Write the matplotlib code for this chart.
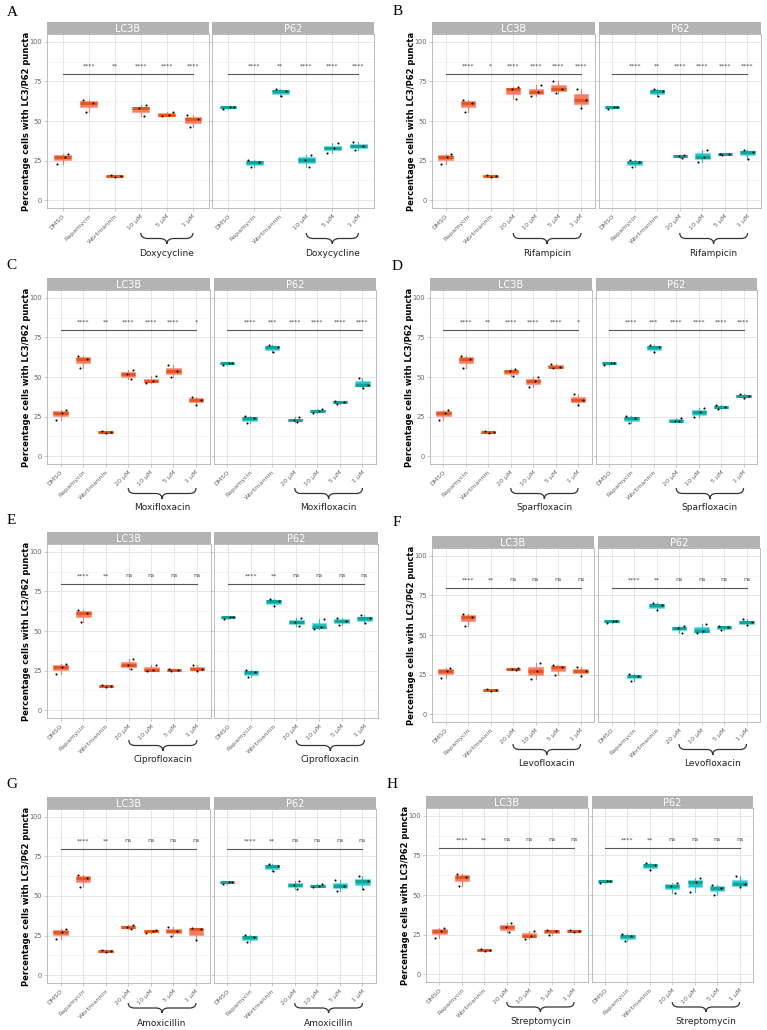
import matplotlib
matplotlib.use('Agg')
import matplotlib.pyplot as plt
import matplotlib.transforms as mtransforms
from matplotlib.path import Path
from matplotlib.patches import PathPatch

W, H = 767, 1030
fig = plt.figure(figsize=(W / 100, H / 100), dpi=100)

# ---------------- data ----------------
controls = ['DMSO', 'Rapamycin', 'Wortmannin']
lc3b_ctrl = [[23, 27.5, 29], [56, 61.5, 63.5], [14.5, 15, 16]]
p62_ctrl = [[57.5, 58.8, 59], [21, 24, 25.5], [65.5, 69, 70.5]]
conc4 = ['20 μM', '10 μM', '5 μM', '1 μM']
conc3 = ['10 μM', '5 μM', '1 μM']

a_drug = 'Doxycycline'
a_lc3b = [[53, 58, 60], [53, 53.5, 56], [46, 51, 54]]
a_p62 = [[21, 25.5, 28.5], [30, 33, 36], [31.5, 34, 37]]
a_sig_lc3b = ['****', '**', '****', '****', '****']
a_sig_p62 = ['****', '**', '****', '****', '****']

b_drug = 'Rifampicin'
b_lc3b = [[64, 70, 71.5], [65.5, 68.5, 72.5], [67.5, 70.5, 75], [58, 63.5, 70.5]]
b_p62 = [[26.5, 27.8, 28.5], [24, 27.5, 31.5], [28.5, 29, 29.3], [26, 30.5, 31.5]]
b_sig_lc3b = ['****', '*', '****', '****', '****', '****']
b_sig_p62 = ['****', '**', '****', '****', '****', '****']

c_drug = 'Moxifloxacin'
c_lc3b = [[48.5, 52, 54.5], [46.5, 47.5, 50.5], [50, 54, 57.5], [32.5, 35.5, 37.5]]
c_p62 = [[21.3, 23, 24.5], [27, 28.5, 29.8], [33, 34.3, 35], [43, 45, 49.5]]
c_sig_lc3b = ['****', '**', '****', '****', '****', '*']
c_sig_p62 = ['****', '***', '****', '****', '****', '****']

d_drug = 'Sparfloxacin'
d_lc3b = [[50.5, 53.5, 55], [43.5, 47.5, 50], [56, 56.5, 58.5], [32.5, 35.5, 39.5]]
d_p62 = [[22, 22.5, 24], [24.5, 28, 30.5], [30, 31, 32], [37, 38, 39.5]]
d_sig_lc3b = ['****', '**', '****', '****', '****', '*']
d_sig_p62 = ['****', '***', '****', '****', '****', '****']

e_drug = 'Ciprofloxacin'
e_lc3b = [[26, 28.5, 32], [24.5, 25.5, 28.5], [24.7, 25.3, 26], [25, 26, 28.5]]
e_p62 = [[53, 55.8, 58], [51, 52.5, 57.3], [54, 56.5, 58.3], [55, 58, 60]]
e_sig_lc3b = ['****', '**', 'ns', 'ns', 'ns', 'ns']
e_sig_p62 = ['****', '**', 'ns', 'ns', 'ns', 'ns']

f_drug = 'Levofloxacin'
f_lc3b = [[28, 28.5, 29], [22.3, 27.5, 32.3], [24.5, 29.5, 31], [24, 27.5, 29.6]]
f_p62 = [[51.5, 54.5, 56], [51, 52.5, 57], [53, 55, 56], [56.5, 58, 60]]
f_sig_lc3b = ['****', '**', 'ns', 'ns', 'ns', 'ns']
f_sig_p62 = ['****', '**', 'ns', 'ns', 'ns', 'ns']

g_drug = 'Amoxicillin'
g_lc3b = [[29.2, 30.5, 31.5], [26.5, 28, 28.5], [24.7, 28, 30.2], [22, 29, 29.5]]
g_p62 = [[54.5, 57, 59.5], [55.5, 56.5, 57.5], [53, 56.5, 60.3], [54.5, 59.5, 62.4]]
g_sig_lc3b = ['****', '**', 'ns', 'ns', 'ns', 'ns']
g_sig_p62 = ['****', '**', 'ns', 'ns', 'ns', 'ns']

h_drug = 'Streptomycin'
h_lc3b = [[26.4, 29.5, 32.3], [22.4, 24, 27.5], [24.5, 27, 28], [26.6, 27.5, 28.1]]
h_p62 = [[51, 56, 57.7], [52, 58, 60.5], [50, 54.5, 56.5], [55, 57, 62]]
h_sig_lc3b = ['****', '**', 'ns', 'ns', 'ns', 'ns']
h_sig_p62 = ['****', '**', 'ns', 'ns', 'ns', 'ns']

y_ticks = [0, 25, 50, 75, 100]
y_label = 'Percentage cells with LC3/P62 puncta'

# ---------------- layout (pixels) ----------------
panels = [
    ('A', a_drug, conc3, a_lc3b, a_p62, a_sig_lc3b, a_sig_p62, 47, 374, 22, (12, 12.5), (25, 36, 45)),
    ('B', b_drug, conc4, b_lc3b, b_p62, b_sig_lc3b, b_sig_p62, 432, 761, 22, (398, 11.5), (25, 36, 45)),
    ('C', c_drug, conc4, c_lc3b, c_p62, c_sig_lc3b, c_sig_p62, 47, 376, 278, (11.5, 266), (24, 35, 44)),
    ('D', d_drug, conc4, d_lc3b, d_p62, d_sig_lc3b, d_sig_p62, 430, 757, 278, (397, 267), (24, 35, 44)),
    ('E', e_drug, conc4, e_lc3b, e_p62, e_sig_lc3b, e_sig_p62, 47, 378, 532, (11, 520), (22, 33, 42)),
    ('F', f_drug, conc4, f_lc3b, f_p62, f_sig_lc3b, f_sig_p62, 432, 760, 536, (397, 523), (22, 33, 42)),
    ('G', g_drug, conc4, g_lc3b, g_p62, g_sig_lc3b, g_sig_p62, 47, 376, 797, (12, 785), (20, 30, 40)),
    ('H', h_drug, conc4, h_lc3b, h_p62, h_sig_lc3b, h_sig_p62, 426, 753, 796, (392, 785), (20, 30, 40)),
]

STRIP_H = 12
PLOT_H = 174
GAP = 4

styles = {
    'LC3B': dict(fill='#F67A64', edge='#FBA597', med='#E4581E'),
    'P62': dict(fill='#1FC3C8', edge='#86DFE2', med='#10A597'),
}
jit = [-0.2, 0.08, 0.22, -0.12, 0.18, -0.22, 0.02, 0.24, -0.16, 0.12, -0.05, 0.2]


def fx(px):
    return px / W


def fy(py):
    return 1 - py / H


def draw_brace(ax, x1, x2, ytop, ybot, color='#333333'):
    tr = mtransforms.blended_transform_factory(ax.transData, fig.transFigure)
    yt, yb = fy(ytop), fy(ybot)
    ym = (yt + yb) / 2
    xc = (x1 + x2) / 2
    r = 0.28
    verts = [(x1, yt), (x1, ym), (x1 + r, ym),
             (xc - r, ym),
             (xc, ym), (xc, yb),
             (xc, ym), (xc + r, ym),
             (x2 - r, ym),
             (x2, ym), (x2, yt)]
    codes = [Path.MOVETO, Path.CURVE3, Path.CURVE3,
             Path.LINETO,
             Path.CURVE3, Path.CURVE3,
             Path.CURVE3, Path.CURVE3,
             Path.LINETO,
             Path.CURVE3, Path.CURVE3]
    ax.add_patch(PathPatch(Path(verts, codes), transform=tr, fill=False,
                           edgecolor=color, lw=0.9, clip_on=False))


for (letter, drug, conc, lc3b, p62, sig_l, sig_p, left, right, stop, lxy, boff) in panels:
    cats = controls + conc
    n = len(cats)
    fw = (right - left - GAP) / 2
    ptop = stop + STRIP_H
    pbot = ptop + PLOT_H
    fig.text(fx(lxy[0]), fy(lxy[1]), letter, family='Liberation Serif', fontsize=11,
             ha='center', va='center')
    fig.text(fx(left - 20), fy((ptop + pbot) / 2), y_label, rotation=90, fontsize=6,
             fontweight='bold', ha='center', va='center')
    for k, (name, vals, sigs) in enumerate([('LC3B', lc3b, sig_l), ('P62', p62, sig_p)]):
        x0 = left + k * (fw + GAP)
        st = styles[name]
        data = (lc3b_ctrl if name == 'LC3B' else p62_ctrl) + vals
        ax = fig.add_axes([fx(x0), fy(pbot), fw / W, PLOT_H / H])
        sax = fig.add_axes([fx(x0), fy(ptop), fw / W, STRIP_H / H])
        sax.set_facecolor('#B3B3B3')
        sax.set_xticks([]); sax.set_yticks([])
        for sp in sax.spines.values():
            sp.set_visible(False)
        sax.text(0.5, 0.45, name, color='white', fontsize=7, ha='center', va='center',
                 transform=sax.transAxes)

        ax.boxplot(data, positions=range(1, n + 1), widths=0.64, patch_artist=True,
                   whis=(0, 100), showfliers=False, showcaps=False, manage_ticks=False,
                   boxprops=dict(facecolor=st['fill'], edgecolor=st['edge'], lw=0.8),
                   medianprops=dict(color=st['med'], lw=2.2),
                   whiskerprops=dict(color=st['fill'], lw=0.8))
        xs, ys = [], []
        for i, d in enumerate(data):
            for j, v in enumerate(d):
                xs.append(i + 1 + jit[(i * 3 + j) % len(jit)])
                ys.append(v)
        ax.scatter(xs, ys, s=2.2, c='black', zorder=4, linewidths=0)

        ax.set_xlim(0.4, n + 0.6)
        ax.set_ylim(-5, 105)
        ax.set_yticks(y_ticks)
        ax.set_yticks([12.5, 37.5, 62.5, 87.5], minor=True)
        ax.set_xticks(range(1, n + 1))
        ax.set_xticklabels(cats, rotation=45, ha='right', va='top', rotation_mode='anchor',
                           fontsize=4.6, color='#666666')
        ax.tick_params(axis='x', length=2, width=0.5, color='#B3B3B3', pad=2)
        ax.tick_params(axis='y', which='major', length=2, width=0.5, color='#B3B3B3',
                       labelsize=4.8, labelcolor='#666666', pad=1.5)
        ax.tick_params(axis='y', which='minor', length=0)
        if k == 1:
            ax.set_yticklabels([])
        ax.grid(True, which='major', color='#E3E3E3', lw=0.6)
        ax.grid(True, which='minor', axis='y', color='#F0F0F0', lw=0.4)
        ax.set_axisbelow(True)
        for sp in ax.spines.values():
            sp.set_color('#B3B3B3')
            sp.set_linewidth(0.6)

        ax.plot([1, n], [80, 80], color='#555555', lw=0.8, zorder=3)
        for i, s in enumerate(sigs):
            ax.text(i + 2, 85, s, ha='center', va='center', fontsize=4.5, color='#444444')

        draw_brace(ax, 4, n, pbot + boff[0], pbot + boff[1])
        tr = mtransforms.blended_transform_factory(ax.transData, fig.transFigure)
        ax.text((4 + n) / 2, fy(pbot + boff[2]), drug, transform=tr, ha='center',
                va='center', fontsize=6.5, color='#222222', clip_on=False)

fig.savefig('out.png', dpi=100, facecolor='white')
